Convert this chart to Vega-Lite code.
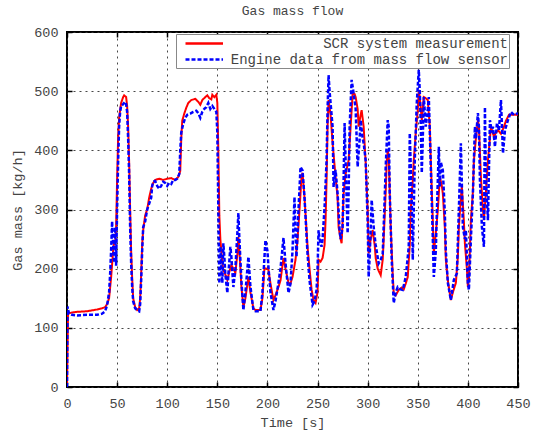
{
  "$schema": "https://vega.github.io/schema/vega-lite/v6.json",
  "width": 451,
  "height": 355,
  "autosize": {"type": "none"},
  "padding": {"left": 67, "top": 32, "right": 16, "bottom": 47},
  "title": {"text": "Gas mass flow", "font": "Liberation Mono", "fontSize": 13, "fontWeight": "normal", "color": "#444", "offset": 7},
  "datasets": {
    "scr": [
      {"t":0,"v":0},{"t":1,"v":124},{"t":5,"v":126},{"t":10,"v":127},{"t":20,"v":128},{"t":30,"v":131},{"t":35,"v":133},{"t":38,"v":135},{"t":40,"v":140},{"t":42,"v":150},{"t":44,"v":185},{"t":46,"v":230},{"t":47,"v":245},{"t":48,"v":240},{"t":49,"v":270},{"t":50,"v":350},{"t":51,"v":420},{"t":52,"v":455},{"t":54,"v":480},{"t":56,"v":490},{"t":57,"v":493},{"t":59,"v":490},{"t":60,"v":475},{"t":61,"v":440},{"t":62,"v":380},{"t":63,"v":300},{"t":64,"v":230},{"t":65,"v":185},{"t":66,"v":150},{"t":68,"v":135},{"t":70,"v":130},{"t":72,"v":133},{"t":73,"v":150},{"t":74,"v":190},{"t":75,"v":240},{"t":76,"v":265},{"t":78,"v":290},{"t":80,"v":300},{"t":82,"v":320},{"t":84,"v":335},{"t":86,"v":345},{"t":88,"v":350},{"t":92,"v":352},{"t":96,"v":350},{"t":100,"v":352},{"t":104,"v":353},{"t":108,"v":350},{"t":111,"v":355},{"t":113,"v":365},{"t":114,"v":420},{"t":115,"v":450},{"t":117,"v":462},{"t":119,"v":472},{"t":121,"v":480},{"t":124,"v":485},{"t":128,"v":487},{"t":131,"v":482},{"t":133,"v":477},{"t":135,"v":485},{"t":138,"v":490},{"t":140,"v":493},{"t":142,"v":488},{"t":144,"v":486},{"t":145,"v":494},{"t":147,"v":490},{"t":149,"v":494},{"t":150,"v":480},{"t":151,"v":400},{"t":152,"v":290},{"t":153,"v":250},{"t":155,"v":210},{"t":156,"v":198},{"t":158,"v":190},{"t":160,"v":181},{"t":162,"v":195},{"t":164,"v":206},{"t":166,"v":200},{"t":168,"v":193},{"t":170,"v":225},{"t":171,"v":254},{"t":172,"v":230},{"t":174,"v":170},{"t":176,"v":135},{"t":178,"v":150},{"t":181,"v":186},{"t":183,"v":160},{"t":186,"v":133},{"t":188,"v":130},{"t":193,"v":130},{"t":195,"v":150},{"t":197,"v":201},{"t":199,"v":200},{"t":201,"v":198},{"t":203,"v":175},{"t":206,"v":147},{"t":208,"v":155},{"t":211,"v":169},{"t":213,"v":180},{"t":216,"v":218},{"t":218,"v":200},{"t":221,"v":176},{"t":223,"v":175},{"t":225,"v":186},{"t":228,"v":215},{"t":230,"v":248},{"t":232,"v":300},{"t":234,"v":355},{"t":235,"v":362},{"t":237,"v":320},{"t":240,"v":237},{"t":242,"v":200},{"t":244,"v":165},{"t":246,"v":147},{"t":248,"v":142},{"t":250,"v":160},{"t":251,"v":215},{"t":253,"v":212},{"t":255,"v":218},{"t":257,"v":240},{"t":258,"v":282},{"t":259,"v":350},{"t":260,"v":440},{"t":261,"v":485},{"t":263,"v":460},{"t":265,"v":412},{"t":268,"v":355},{"t":270,"v":320},{"t":271,"v":270},{"t":273,"v":250},{"t":274,"v":243},{"t":275,"v":280},{"t":276,"v":327},{"t":278,"v":360},{"t":281,"v":383},{"t":283,"v":440},{"t":285,"v":496},{"t":287,"v":495},{"t":288,"v":490},{"t":290,"v":470},{"t":291,"v":440},{"t":293,"v":460},{"t":294,"v":468},{"t":296,"v":440},{"t":298,"v":380},{"t":300,"v":299},{"t":301,"v":226},{"t":303,"v":250},{"t":305,"v":265},{"t":307,"v":240},{"t":308,"v":218},{"t":310,"v":200},{"t":313,"v":189},{"t":315,"v":215},{"t":316,"v":250},{"t":318,"v":330},{"t":319,"v":380},{"t":320,"v":400},{"t":321,"v":390},{"t":323,"v":270},{"t":325,"v":190},{"t":326,"v":159},{"t":328,"v":155},{"t":331,"v":164},{"t":334,"v":168},{"t":336,"v":165},{"t":338,"v":175},{"t":340,"v":186},{"t":342,"v":240},{"t":343,"v":299},{"t":345,"v":350},{"t":346,"v":383},{"t":348,"v":430},{"t":350,"v":468},{"t":351,"v":502},{"t":352,"v":490},{"t":354,"v":451},{"t":356,"v":490},{"t":358,"v":488},{"t":360,"v":485},{"t":362,"v":440},{"t":363,"v":383},{"t":365,"v":280},{"t":366,"v":225},{"t":368,"v":260},{"t":370,"v":299},{"t":372,"v":355},{"t":374,"v":340},{"t":375,"v":327},{"t":377,"v":270},{"t":378,"v":215},{"t":380,"v":180},{"t":383,"v":147},{"t":385,"v":160},{"t":388,"v":176},{"t":390,"v":220},{"t":391,"v":270},{"t":393,"v":320},{"t":394,"v":338},{"t":396,"v":280},{"t":397,"v":243},{"t":399,"v":200},{"t":400,"v":169},{"t":401,"v":181},{"t":403,"v":282},{"t":405,"v":330},{"t":406,"v":383},{"t":408,"v":420},{"t":410,"v":451},{"t":411,"v":440},{"t":413,"v":355},{"t":415,"v":300},{"t":416,"v":282},{"t":418,"v":330},{"t":420,"v":383},{"t":422,"v":420},{"t":423,"v":440},{"t":426,"v":423},{"t":428,"v":430},{"t":430,"v":434},{"t":433,"v":428},{"t":436,"v":440},{"t":438,"v":450},{"t":441,"v":460},{"t":444,"v":460},{"t":447,"v":460},{"t":450,"v":460}
    ],
    "eng": [
      {"t":0,"v":0},{"t":0.5,"v":136},{"t":2,"v":124},{"t":5,"v":122},{"t":10,"v":121},{"t":20,"v":122},{"t":30,"v":122},{"t":35,"v":124},{"t":38,"v":128},{"t":40,"v":138},{"t":42,"v":160},{"t":43,"v":190},{"t":44,"v":230},{"t":45,"v":280},{"t":46,"v":240},{"t":47,"v":210},{"t":48,"v":270},{"t":49,"v":205},{"t":50,"v":300},{"t":51,"v":380},{"t":52,"v":440},{"t":53,"v":465},{"t":54,"v":475},{"t":56,"v":478},{"t":58,"v":482},{"t":59,"v":478},{"t":60,"v":465},{"t":61,"v":420},{"t":62,"v":360},{"t":63,"v":270},{"t":64,"v":210},{"t":65,"v":170},{"t":66,"v":145},{"t":68,"v":133},{"t":70,"v":130},{"t":72,"v":128},{"t":73,"v":140},{"t":74,"v":180},{"t":75,"v":230},{"t":76,"v":270},{"t":77,"v":275},{"t":78,"v":280},{"t":80,"v":300},{"t":82,"v":310},{"t":84,"v":320},{"t":85,"v":340},{"t":86,"v":347},{"t":88,"v":348},{"t":90,"v":340},{"t":92,"v":335},{"t":94,"v":340},{"t":96,"v":347},{"t":98,"v":345},{"t":100,"v":340},{"t":102,"v":345},{"t":104,"v":343},{"t":106,"v":350},{"t":108,"v":350},{"t":110,"v":352},{"t":112,"v":360},{"t":113,"v":400},{"t":114,"v":430},{"t":116,"v":445},{"t":118,"v":455},{"t":120,"v":460},{"t":123,"v":462},{"t":126,"v":465},{"t":129,"v":467},{"t":131,"v":463},{"t":133,"v":455},{"t":135,"v":465},{"t":137,"v":470},{"t":139,"v":473},{"t":141,"v":480},{"t":143,"v":470},{"t":145,"v":475},{"t":147,"v":470},{"t":149,"v":465},{"t":150,"v":430},{"t":151,"v":300},{"t":152,"v":175},{"t":153,"v":237},{"t":154,"v":200},{"t":155,"v":176},{"t":156,"v":243},{"t":157,"v":220},{"t":158,"v":190},{"t":160,"v":159},{"t":161,"v":190},{"t":163,"v":237},{"t":164,"v":220},{"t":166,"v":169},{"t":168,"v":200},{"t":170,"v":260},{"t":171,"v":294},{"t":172,"v":250},{"t":174,"v":180},{"t":176,"v":130},{"t":178,"v":160},{"t":181,"v":220},{"t":183,"v":170},{"t":186,"v":130},{"t":188,"v":128},{"t":193,"v":128},{"t":195,"v":160},{"t":198,"v":248},{"t":200,"v":230},{"t":201,"v":203},{"t":203,"v":160},{"t":206,"v":130},{"t":208,"v":145},{"t":211,"v":176},{"t":213,"v":200},{"t":216,"v":252},{"t":218,"v":210},{"t":221,"v":159},{"t":223,"v":175},{"t":225,"v":230},{"t":227,"v":321},{"t":228,"v":260},{"t":229,"v":220},{"t":231,"v":300},{"t":233,"v":372},{"t":235,"v":366},{"t":237,"v":320},{"t":240,"v":225},{"t":242,"v":180},{"t":245,"v":139},{"t":247,"v":145},{"t":249,"v":164},{"t":250,"v":200},{"t":251,"v":265},{"t":252,"v":250},{"t":254,"v":237},{"t":255,"v":250},{"t":257,"v":304},{"t":259,"v":383},{"t":260,"v":470},{"t":261,"v":527},{"t":262,"v":500},{"t":264,"v":460},{"t":265,"v":440},{"t":266,"v":338},{"t":268,"v":367},{"t":270,"v":327},{"t":272,"v":265},{"t":273,"v":250},{"t":275,"v":270},{"t":276,"v":350},{"t":277,"v":446},{"t":278,"v":380},{"t":280,"v":260},{"t":281,"v":330},{"t":282,"v":440},{"t":284,"v":519},{"t":286,"v":496},{"t":288,"v":470},{"t":290,"v":372},{"t":292,"v":420},{"t":293,"v":451},{"t":295,"v":420},{"t":296,"v":412},{"t":298,"v":383},{"t":300,"v":280},{"t":301,"v":186},{"t":302,"v":220},{"t":304,"v":316},{"t":306,"v":270},{"t":308,"v":240},{"t":311,"v":209},{"t":313,"v":215},{"t":315,"v":225},{"t":317,"v":320},{"t":318,"v":372},{"t":320,"v":451},{"t":321,"v":440},{"t":322,"v":330},{"t":324,"v":215},{"t":326,"v":142},{"t":328,"v":160},{"t":330,"v":169},{"t":333,"v":165},{"t":335,"v":164},{"t":338,"v":186},{"t":341,"v":237},{"t":342,"v":429},{"t":344,"v":316},{"t":345,"v":215},{"t":347,"v":383},{"t":349,"v":480},{"t":351,"v":536},{"t":352,"v":500},{"t":353,"v":440},{"t":354,"v":362},{"t":355,"v":420},{"t":356,"v":490},{"t":358,"v":440},{"t":360,"v":470},{"t":361,"v":490},{"t":363,"v":372},{"t":365,"v":250},{"t":366,"v":186},{"t":368,"v":230},{"t":369,"v":294},{"t":371,"v":406},{"t":372,"v":338},{"t":373,"v":380},{"t":375,"v":366},{"t":377,"v":294},{"t":378,"v":230},{"t":380,"v":176},{"t":383,"v":147},{"t":386,"v":181},{"t":389,"v":192},{"t":391,"v":300},{"t":393,"v":412},{"t":395,"v":270},{"t":397,"v":250},{"t":398,"v":265},{"t":400,"v":175},{"t":401,"v":164},{"t":403,"v":250},{"t":405,"v":327},{"t":407,"v":440},{"t":408,"v":420},{"t":410,"v":463},{"t":411,"v":440},{"t":412,"v":350},{"t":414,"v":270},{"t":416,"v":237},{"t":417,"v":473},{"t":418,"v":350},{"t":420,"v":282},{"t":422,"v":451},{"t":424,"v":430},{"t":425,"v":440},{"t":427,"v":406},{"t":429,"v":446},{"t":431,"v":434},{"t":433,"v":485},{"t":435,"v":395},{"t":437,"v":434},{"t":440,"v":451},{"t":443,"v":465},{"t":446,"v":460},{"t":450,"v":463}
    ]
  },
  "layer": [
    {
      "data": {"name": "scr"},
      "mark": {"type": "line", "strokeWidth": 2, "clip": true},
      "encoding": {
        "x": {"field": "t", "type": "quantitative", "scale": {"domain": [0, 450], "nice": false},
              "axis": {"orient": "bottom", "values": [0,50,100,150,200,250,300,350,400,450], "grid": true, "title": "Time [s]", "labelPadding": 14, "titlePadding": 6, "labelFlush": false}},
        "y": {"field": "v", "type": "quantitative", "scale": {"domain": [0, 600], "nice": false},
              "axis": {"orient": "left", "values": [0,100,200,300,400,500,600], "grid": true, "title": "Gas mass [kg/h]", "labelPadding": 14, "titlePadding": 9}},
        "color": {"datum": "SCR system measurement", "type": "nominal",
                  "scale": {"domain": ["SCR system measurement", "Engine data from mass flow sensor"], "range": ["#ff0000", "#0000ff"]}},
        "strokeDash": {"datum": "SCR system measurement", "type": "nominal",
                       "scale": {"domain": ["SCR system measurement", "Engine data from mass flow sensor"], "range": [[1, 0], [4, 2]]}}
      }
    },
    {
      "data": {"name": "eng"},
      "mark": {"type": "line", "strokeWidth": 2.5, "clip": true},
      "encoding": {
        "x": {"field": "t", "type": "quantitative",
              "axis": {"orient": "top", "values": [0,50,100,150,200,250,300,350,400,450], "grid": false, "labels": false, "title": null}},
        "y": {"field": "v", "type": "quantitative",
              "axis": {"orient": "right", "values": [0,100,200,300,400,500,600], "grid": false, "labels": false, "title": null}},
        "color": {"datum": "Engine data from mass flow sensor", "type": "nominal"},
        "strokeDash": {"datum": "Engine data from mass flow sensor", "type": "nominal"}
      }
    }
  ],
  "resolve": {"axis": {"x": "independent", "y": "independent"}},
  "config": {
    "font": "Liberation Mono",
    "view": {"stroke": "black", "strokeWidth": 2},
    "legend": {"orient": "none", "legendX": 109, "legendY": 2, "title": null, "symbolType": "M0,0H5.36", "symbolSize": 196, "symbolStrokeWidth": 2.5,
               "labelFont": "Liberation Mono", "labelFontSize": 14, "labelColor": "#444", "labelLimit": 1000, "labelOffset": 314, "labelAlign": "right",
               "strokeColor": "#888", "fillColor": "white", "padding": 1, "rowPadding": 0, "cornerRadius": 0},
    "axis": {"labelFont": "Liberation Mono", "labelFontSize": 13.5, "labelColor": "#444",
             "titleFont": "Liberation Mono", "titleFontSize": 13.5, "titleFontWeight": "normal", "titleColor": "#444",
             "domain": false, "gridColor": "#333", "gridDash": [2, 4], "gridOpacity": 0.9, "gridWidth": 1,
             "tickColor": "black", "tickSize": -5, "tickWidth": 1.5}
  }
}
